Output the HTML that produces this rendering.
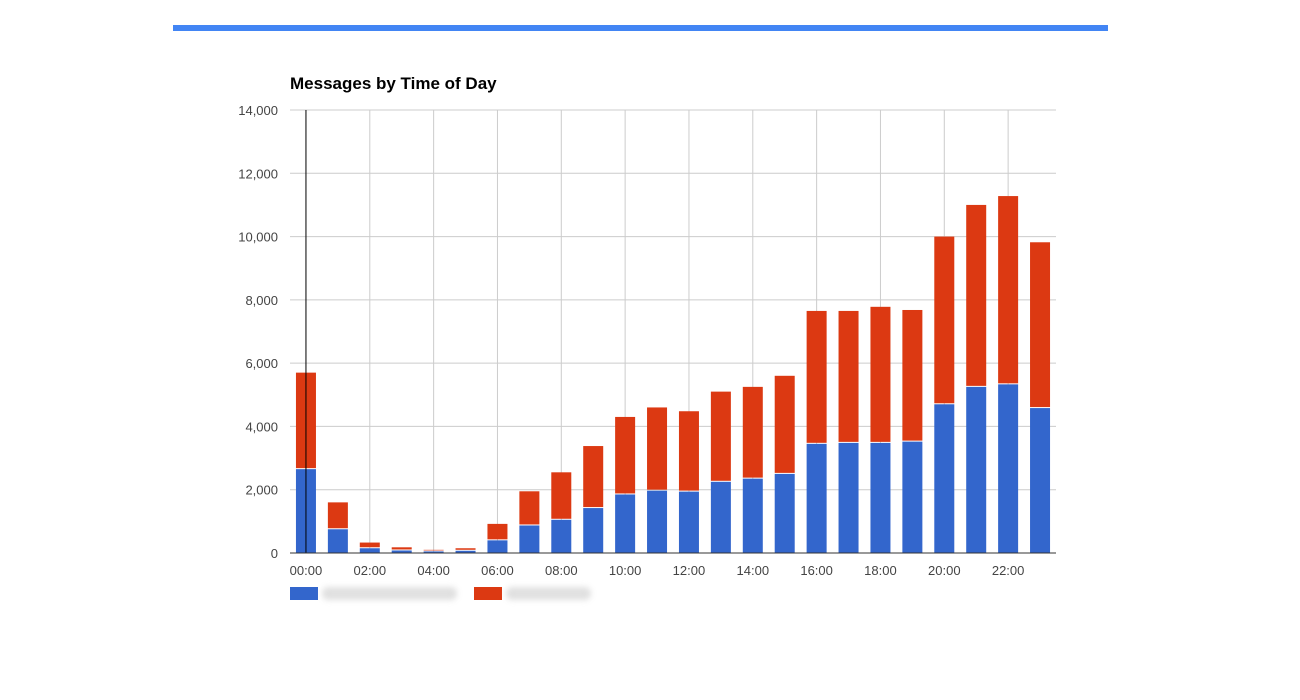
<!DOCTYPE html>
<html><head><meta charset="utf-8"><style>
body{margin:0;width:1300px;height:700px;background:#fff;overflow:hidden;font-family:"Liberation Sans",Arial,sans-serif}
</style></head><body>
<div style="position:absolute;left:173px;top:25px;width:935px;height:6px;background:#4285f4"></div>
<svg id="chart" width="1300" height="700" style="position:absolute;left:0;top:0">
<text x="290" y="89" font-size="17" font-weight="bold" fill="#000">Messages by Time of Day</text>
<g id="grid"></g><g id="bars"></g><g id="axes"></g>
<g>
<rect x="290" y="587" width="28" height="13" fill="#3366cc"/>
<rect x="322" y="587" width="135" height="13" rx="6" fill="#ccc" opacity="0.6" style="filter:blur(3px)"/>
<rect x="474" y="587" width="28" height="13" fill="#dc3912"/>
<rect x="506" y="587" width="85" height="13" rx="6" fill="#ccc" opacity="0.6" style="filter:blur(3px)"/>
</g>
</svg>
<script>
const hours=[0,1,2,3,4,5,6,7,8,9,10,11,12,13,14,15,16,17,18,19,20,21,22,23];
const blueValues=[2650,750,150,80,50,70,400,870,1050,1420,1850,1970,1940,2250,2350,2500,3450,3480,3480,3520,4700,5250,5330,4580];
const redValues=[3050,850,180,100,50,80,520,1080,1500,1960,2450,2630,2540,2850,2900,3100,4200,4170,4300,4160,5300,5750,5950,5240];
const yTicks=[0,2000,4000,6000,8000,10000,12000,14000];
const yTickLabels=["0","2,000","4,000","6,000","8,000","10,000","12,000","14,000"];
const xTicks=[0,2,4,6,8,10,12,14,16,18,20,22];
const xTickLabels=["00:00","02:00","04:00","06:00","08:00","10:00","12:00","14:00","16:00","18:00","20:00","22:00"];
const L=290,R=1056,T=110,B=553;
const x=h=>L+(h+0.5)*(R-L)/24;
const y=v=>B-v*(B-T)/14000;
const NS="http://www.w3.org/2000/svg";
function mk(tag,attrs,parent){const e=document.createElementNS(NS,tag);for(const k in attrs)e.setAttribute(k,attrs[k]);document.getElementById(parent).appendChild(e);return e;}
yTicks.forEach((v,i)=>{
 const l=mk('line',{x1:L,x2:R,y1:y(v),y2:y(v),stroke:'#ccc','stroke-width':1},'grid');
 
 
 const t=mk('text',{x:L-12,y:y(v)+5,'text-anchor':'end','font-size':13,fill:'#444'},'grid');
 t.textContent=yTickLabels[i];
 
 
});
xTicks.forEach((h,i)=>{
 if(h>0){const l=mk('line',{x1:x(h),x2:x(h),y1:T,y2:B,stroke:'#ccc','stroke-width':1},'grid');
 
 }
 const t=mk('text',{x:x(h),y:B+22,'text-anchor':'middle','font-size':13,fill:'#444'},'grid');
 t.textContent=xTickLabels[i];
 
 
});
const bw=20;
hours.forEach((h,i)=>{
 const b=blueValues[i],r=redValues[i];
 const rb=mk('rect',{x:x(h)-bw/2,y:y(b),width:bw,height:y(0)-y(b),fill:'#3366cc'},'bars');
 
 
 const rr=mk('rect',{x:x(h)-bw/2,y:y(b+r),width:bw,height:y(b)-y(b+r)-1,fill:'#dc3912'},'bars');
 
 
});
const ya=mk('line',{x1:x(0),x2:x(0),y1:T,y2:B,stroke:'#000','stroke-width':1},'axes');


const xa=mk('line',{x1:L,x2:R,y1:B,y2:B,stroke:'#333','stroke-width':1},'axes');


</script>
</body></html>
